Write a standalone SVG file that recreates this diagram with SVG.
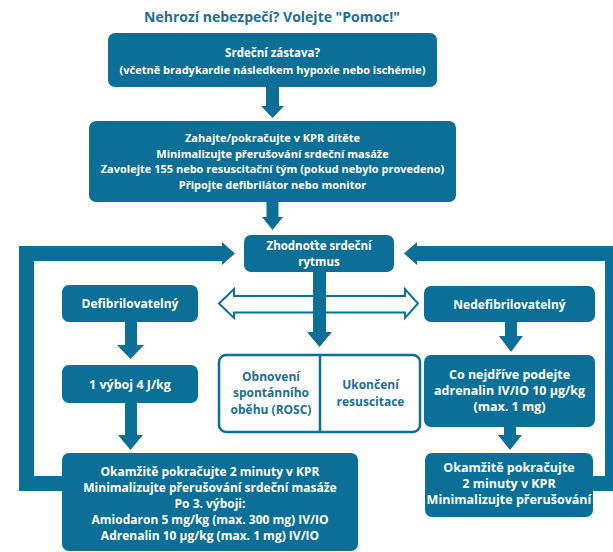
<svg xmlns="http://www.w3.org/2000/svg" width="613" height="552" viewBox="0 0 613 552">
<style>
.box{fill:#0c6f97}
.obox{fill:#fff;stroke:#0c6f97;stroke-width:2.5}
.ar{fill:#0c6f97}
.har{fill:#fff;stroke:#0c6f97;stroke-width:2}
text{font-family:"Open Sans","Liberation Sans",sans-serif;font-weight:700;text-anchor:middle}
.w{fill:#fff;font-size:11px}
.w12{fill:#fff;font-size:12px}
.w125{fill:#fff;font-size:12.5px}
.b{fill:#1a6e94;font-size:12px}
.t{fill:#1a6e94;font-size:14px}
</style>
<rect width="613" height="552" fill="#fff"/>
<text class="t" x="272" y="22">Nehrozí nebezpečí? Volejte "Pomoc!"</text>
<g id="connectors">
<polygon class="ar" points="266,87 279,87 279,106 284,106 272.5,118 261,106 266,106"/>
<polygon class="ar" points="266.5,202 278.5,202 278.5,217 283,217 272.5,230 262,217 266.5,217"/>
<polygon class="har" points="219,303.5 234,289 234,296 405,296 405,289 418,303.5 405,318 405,312.5 234,312.5 234,318"/>
<polygon class="ar" points="313,272 326,272 326,332 332,332 319.5,347 307,332 313,332"/>
<polygon class="ar" points="125,322 137,322 137,345 144,345 130.5,359 117,345 125,345"/>
<polygon class="ar" points="125,403 137,403 137,435 143,435 130.5,450 118,435 125,435"/>
<polygon class="ar" points="505,322 517,322 517,336 523,336 511,352 499,336 505,336"/>
<polygon class="ar" points="504,427 516,427 516,435 522,435 510,450 498,435 504,435"/>
<polygon class="ar" points="64,476 34,476 34,261 222,261 222,265 235,253.5 222,242 222,246 19,246 19,491 64,491"/>
<polygon class="ar" points="591,476 605,476 605,261 417,261 417,265 404,253.5 417,242 417,246 620,246 620,491 591,491"/>
</g>
<g id="n1"><rect class="box" x="108" y="33" width="329" height="54" rx="7"/>
<text class="w" x="272.5" y="57" style="font-size:11.5px">Srdeční zástava?</text>
<text class="w" x="272.5" y="74">(včetně bradykardie následkem hypoxie nebo ischémie)</text></g>
<g id="n2"><rect class="box" x="89" y="121" width="367" height="81" rx="7"/>
<text class="w" x="272.5" y="142">Zahajte/pokračujte v KPR dítěte</text>
<text class="w" x="272.5" y="157.5">Minimalizujte přerušování srdeční masáže</text>
<text class="w" x="272.5" y="173">Zavolejte 155 nebo resuscitační tým (pokud nebylo provedeno)</text>
<text class="w" x="272.5" y="189">Připojte defibrilátor nebo monitor</text></g>
<g id="n3"><rect class="box" x="244" y="235" width="150" height="37" rx="7"/>
<text class="w" x="319" y="250" style="font-size:11.5px">Zhodnoťte srdeční</text>
<text class="w" x="319" y="266" style="font-size:11.5px">rytmus</text></g>
<g id="n4"><rect class="box" x="62" y="285" width="136" height="37" rx="7"/>
<text class="w12" x="130" y="308">Defibrilovatelný</text></g>
<g id="n5"><rect class="box" x="62" y="365" width="136" height="38" rx="7"/>
<text class="w125" x="130" y="389">1 výboj 4 J/kg</text></g>
<g id="n6"><rect class="box" x="62" y="453" width="296" height="98" rx="7"/>
<text class="w12" x="210" y="476">Okamžitě pokračujte 2 minuty v KPR</text>
<text class="w12" x="210" y="492">Minimalizujte přerušování srdeční masáže</text>
<text class="w12" x="210" y="508">Po 3. výboji:</text>
<text class="w12" x="210" y="524">Amiodaron 5 mg/kg (max. 300 mg) IV/IO</text>
<text class="w12" x="210" y="540">Adrenalin 10 μg/kg (max. 1 mg) IV/IO</text></g>
<g id="n7"><rect class="obox" x="219" y="355" width="201" height="77" rx="7"/>
<line x1="320" y1="355" x2="320" y2="432" stroke="#0c6f97" stroke-width="2.5"/>
<text class="b" x="271" y="381">Obnovení</text>
<text class="b" x="271" y="397">spontánního</text>
<text class="b" x="271" y="414">oběhu (ROSC)</text>
<text class="b" x="370.5" y="389">Ukončení</text>
<text class="b" x="370.5" y="406">resuscitace</text></g>
<g id="n8"><rect class="box" x="424" y="286" width="171" height="36" rx="7"/>
<text class="w12" x="509.5" y="309">Nedefibrilovatelný</text></g>
<g id="n9"><rect class="box" x="424" y="355" width="171" height="72" rx="7"/>
<text class="w125" x="509.5" y="379">Co nejdříve podejte</text>
<text class="w125" x="509.5" y="395">adrenalin IV/IO 10 μg/kg</text>
<text class="w125" x="509.5" y="411">(max. 1 mg)</text></g>
<g id="n10"><rect class="box" x="425" y="453" width="168" height="64" rx="7"/>
<text class="w125" x="509" y="472">Okamžitě pokračujte</text>
<text class="w125" x="509" y="488">2 minuty v KPR</text>
<text class="w125" x="509" y="504">Minimalizujte přerušování</text></g>
</svg>
